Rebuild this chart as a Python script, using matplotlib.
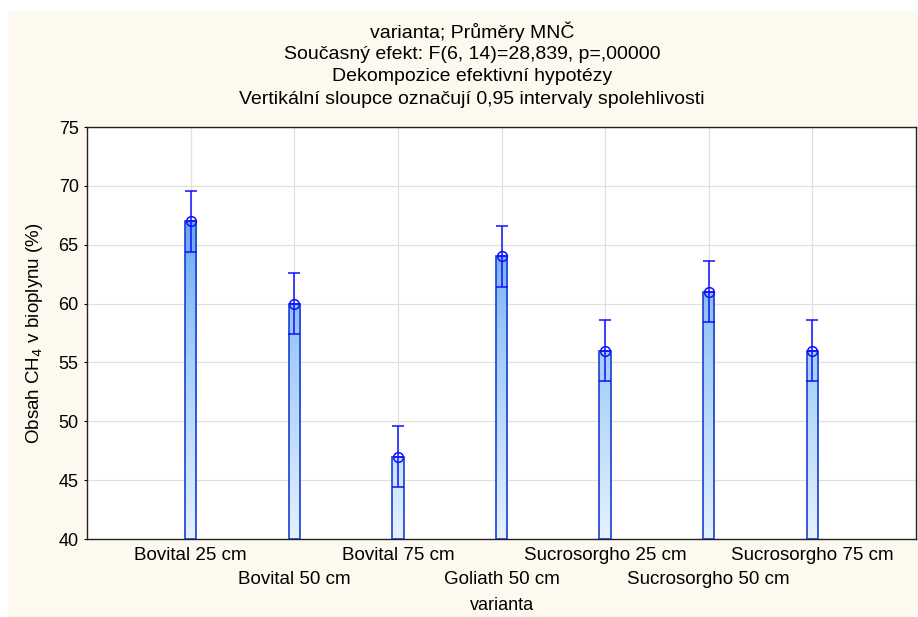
import matplotlib
matplotlib.use("Agg")
import matplotlib.pyplot as plt
import numpy as np
from matplotlib.colors import LinearSegmentedColormap, Normalize
from matplotlib.patches import Rectangle

categories = ["Bovital 25 cm", "Bovital 50 cm", "Bovital 75 cm", "Goliath 50 cm",
              "Sucrosorgho 25 cm", "Sucrosorgho 50 cm", "Sucrosorgho 75 cm"]
means = [67.0, 60.0, 47.0, 64.0, 56.0, 61.0, 56.0]
ci_half = [2.6, 2.6, 2.6, 2.6, 2.6, 2.6, 2.6]
yticks = [40, 45, 50, 55, 60, 65, 70, 75]
titles = ["varianta; Průměry MNČ",
          "Současný efekt: F(6, 14)=28,839, p=,00000",
          "Dekompozice efektivní hypotézy",
          "Vertikální sloupce označují 0,95 intervaly spolehlivosti"]

plt.rcParams['font.family'] = ["Liberation Sans", "DejaVu Sans"]

W, H = 918, 617
fig = plt.figure(figsize=(W / 100, H / 100), dpi=100, facecolor="white")
fig.patches.append(Rectangle((8 / W, 0), 1 - 8 / W, 1 - 11 / H, transform=fig.transFigure,
                             facecolor="#FEF9EE", edgecolor="none", zorder=-10))

ax = fig.add_axes([87 / W, (H - 539) / H, (916 - 87) / W, (539 - 127) / H])
ax.set_facecolor("white")

x = np.arange(1, len(categories) + 1)
ax.set_xticks(x[::2])
ax.set_xticks(x[1::2], minor=True)
ax.set_yticks(yticks)
ax.grid(True, which="major", color="#e0e0e0", lw=0.9, zorder=0)
ax.grid(True, which="minor", axis="x", color="#e0e0e0", lw=0.9, zorder=0)
ax.set_axisbelow(True)

cmap = LinearSegmentedColormap.from_list("g", ["#e4f1ff", "#9cc9f8", "#3a8aef"])
norm = Normalize(40, 75)
bw = 0.11
for xi, m in zip(x, means):
    grad = np.linspace(40, m, 200).reshape(-1, 1)
    ax.imshow(grad, extent=[xi - bw / 2, xi + bw / 2, 40, m], origin="lower",
              cmap=cmap, norm=norm, aspect="auto", zorder=2, interpolation="bilinear")
    ax.add_patch(Rectangle((xi - bw / 2, 40), bw, m - 40, facecolor="none",
                           edgecolor="#1a3fd0", lw=1.2, zorder=3))
ax.set_xlim(0, 8)
ax.set_ylim(40, 75)

ax.errorbar(x, means, yerr=ci_half, fmt="none", ecolor="#1010ff", elinewidth=1.1,
            capsize=4, capthick=1.1, zorder=4)
ax.plot(x, means, ls="none", marker="o", ms=7, mfc="none", mec="#1010ff", mew=1.1, zorder=5)
ax.plot(x, means, ls="none", marker="_", ms=7, mec="#1010ff", mew=1.1, zorder=5)

ax.set_xticklabels(categories[::2], fontsize=13.5)
ax.set_xticklabels(categories[1::2], minor=True, fontsize=13.5)
ax.tick_params(axis="x", which="major", direction="in", length=3, pad=6)
ax.tick_params(axis="x", which="minor", direction="in", length=3, pad=23)
ax.tick_params(axis="y", direction="out", length=2, labelsize=13, pad=4)
for s in ax.spines.values():
    s.set_color("#222222")
    s.set_linewidth(1.0)

ax.set_ylabel("Obsah CH$_4$ v bioplynu (%)", fontsize=13.5)
ax.yaxis.set_label_coords(-(87 - 45) / (916 - 87), 0.5)
fig.text((87 + 916) / 2 / W, 1 - 605 / H, "varianta", ha="center", va="center", fontsize=13)

for i, t in enumerate(titles):
    fig.text(472 / W, 1 - (32 + 22.4 * i) / H, t, ha="center", va="center", fontsize=14)

fig.savefig("out.png", dpi=100, facecolor=fig.get_facecolor())
